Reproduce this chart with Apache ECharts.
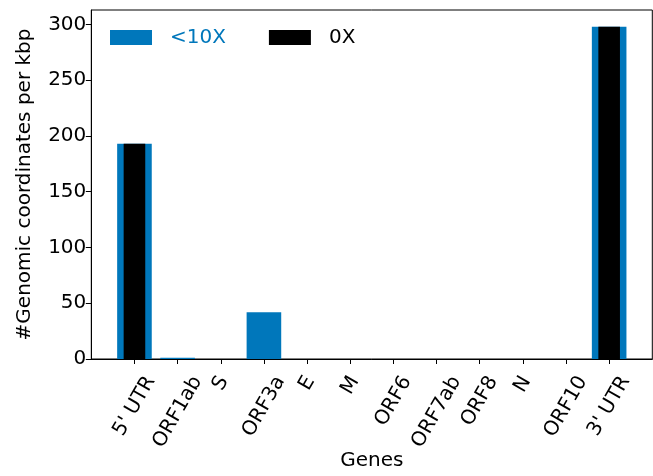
<!DOCTYPE html>
<html>
<head>
<meta charset="utf-8">
<script src="https://cdn.jsdelivr.net/npm/echarts@6/dist/echarts.min.js"></script>
<style>
html,body{margin:0;padding:0;background:#fff;}
#chart{width:653px;height:476px;}
</style>
</head>
<body>
<div id="chart"></div>
<script>
const genes = ["5' UTR", "ORF1ab", "S", "ORF3a", "E", "M", "ORF6", "ORF7ab", "ORF8", "N", "ORF10", "3' UTR"];
const lowCov = [193, 1.2, 0, 42, 0, 0, 0, 0, 0, 0, 0, 298];
const zeroCov = [193, 0, 0, 0, 0, 0, 0, 0, 0, 0, 0, 298];
const yTicks = [0, 50, 100, 150, 200, 250, 300];
const seriesNames = ['<10X', '0X'];

const FONT = 'DejaVu Sans';
const FS = 20;

// category list with an empty slot at each end (matplotlib-like margins)
const cats = [''].concat(genes, ['']);
const pad = arr => [null].concat(arr, [null]);

// rotated labels centred under their tick (matplotlib style): per-label padding shift
const ctx = document.createElement('canvas').getContext('2d');
ctx.font = FS + 'px "' + FONT + '"';
const lineH = FS * 1.17;
const rich = {};
genes.forEach((g, i) => {
  const w = ctx.measureText(g).width;
  const D = (0.866 * w + 0.5 * lineH) / 2;
  rich['l' + i] = {
    fontFamily: FONT, fontSize: FS, color: '#000', lineHeight: lineH,
    padding: [D, 1.732 * D, 0, 0]
  };
});

const chart = echarts.init(document.getElementById('chart'), null, {renderer: 'canvas'});

function xAxisCfg(show) {
  return {
    type: 'category', data: cats, boundaryGap: false, show: show,
    name: show ? 'Genes' : '', nameLocation: 'middle', nameGap: 92, nameMoveOverlap: false,
    nameTextStyle: {fontFamily: FONT, fontSize: FS, color: '#000'},
    axisLine: {show: true, onZero: false, lineStyle: {color: '#000', width: 1}},
    axisTick: {show: true, length: 5, interval: (i, v) => v !== '', lineStyle: {color: '#000'}},
    axisLabel: {
      interval: 0, rotate: 60, margin: 13,
      align: 'center', verticalAlign: 'middle',
      fontFamily: FONT, fontSize: FS, color: '#000',
      formatter: (v, i) => v === '' ? '' : '{l' + (i - 1) + '|' + v + '}',
      rich: rich
    },
    splitLine: {show: false}
  };
}

chart.setOption({
  animation: false,
  grid: {left: 91.3, right: 0.7, top: 10, bottom: 117, containLabel: false, outerBoundsMode: 'none',
         show: true, borderColor: '#000', borderWidth: 1, backgroundColor: 'transparent'},
  legend: {
    left: 110, top: 26, padding: 0, itemWidth: 42, itemHeight: 15, itemGap: 43,
    icon: 'rect',
    data: [
      {name: seriesNames[0], textStyle: {color: '#0077BB'}},
      {name: seriesNames[1], textStyle: {color: '#000'}}
    ],
    textStyle: {fontFamily: FONT, fontSize: FS, lineHeight: 23, padding: [0, 0, 0, 13]}
  },
  xAxis: [xAxisCfg(true), xAxisCfg(false)],
  yAxis: {
    type: 'value', min: 0, max: 313,
    name: '#Genomic coordinates per kbp', nameLocation: 'middle', nameGap: 57, nameRotate: 90,
    nameMoveOverlap: false,
    nameTextStyle: {fontFamily: FONT, fontSize: FS, color: '#000'},
    axisLine: {show: true, onZero: false, lineStyle: {color: '#000', width: 1}},
    axisTick: {show: true, customValues: yTicks, length: 5.5, lineStyle: {color: '#000'}},
    axisLabel: {customValues: yTicks, margin: 5, fontFamily: FONT, fontSize: FS, color: '#000'},
    splitLine: {show: false}
  },
  series: [
    {
      name: seriesNames[0], type: 'bar', xAxisIndex: 0, barWidth: 34.6,
      itemStyle: {color: '#0077BB'},
      data: pad(lowCov)
    },
    {
      name: seriesNames[1], type: 'bar', xAxisIndex: 1, barWidth: 21.6,
      itemStyle: {color: '#000'},
      data: pad(zeroCov)
    }
  ]
});
</script>
</body>
</html>
